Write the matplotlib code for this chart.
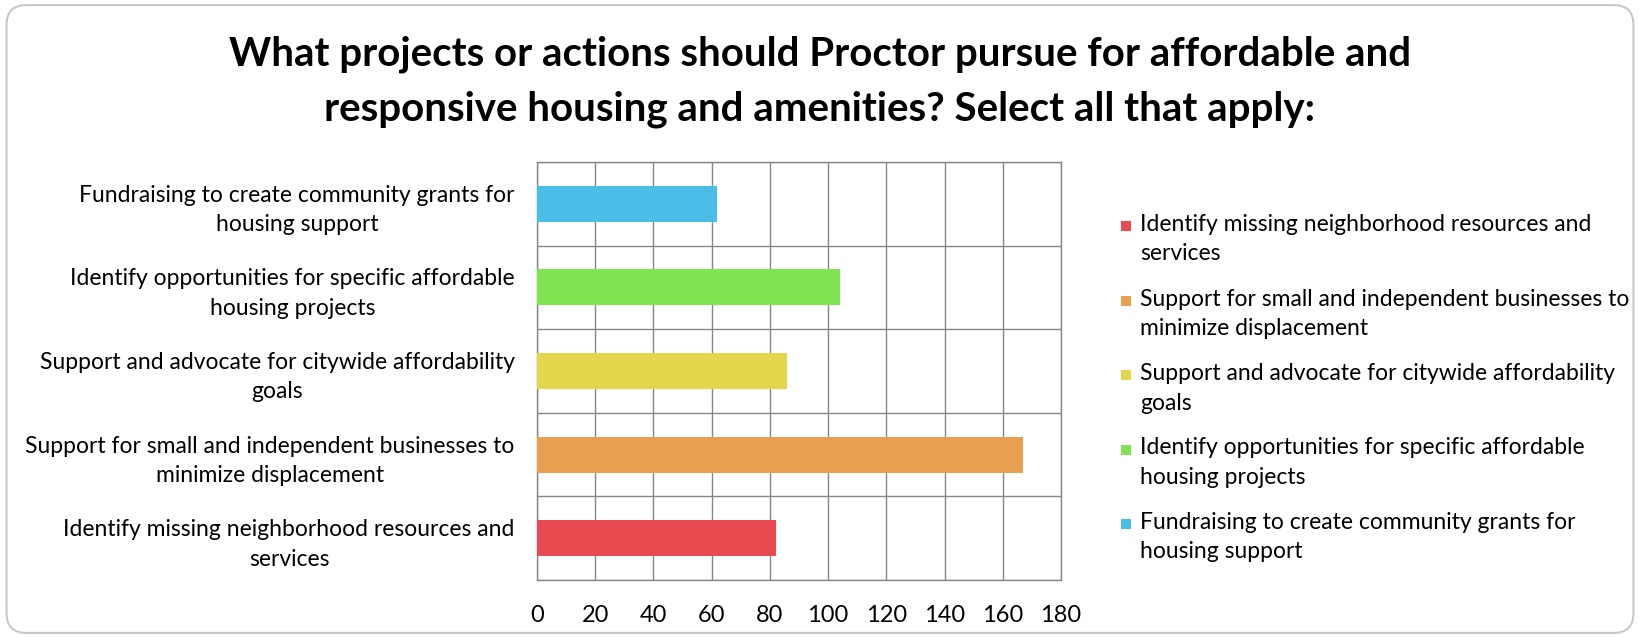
import matplotlib
matplotlib.use("Agg")
import matplotlib.pyplot as plt
from matplotlib.patches import FancyBboxPatch, Rectangle

# survey answers, bottom to top as drawn on the category axis
categories = [
    "Identify missing neighborhood resources and\nservices",
    "Support for small and independent businesses to\nminimize displacement",
    "Support and advocate for citywide affordability\ngoals",
    "Identify opportunities for specific affordable\nhousing projects",
    "Fundraising to create community grants for\nhousing support",
]
legend_labels = [
    "Identify missing neighborhood resources and\nservices",
    "Support for small and independent businesses to\nminimize displacement",
    "Support and advocate for citywide affordability\ngoals",
    "Identify opportunities for specific affordable\nhousing projects",
    "Fundraising to create community grants for\nhousing support",
]
counts = [82, 167, 86, 104, 62]
colors = ["#E84A50", "#E8A050", "#E4D64C", "#80E452", "#4ABEE6"]
xticks = [0, 20, 40, 60, 80, 100, 120, 140, 160, 180]

title = ("What projects or actions should Proctor pursue for affordable and\n"
         "responsive housing and amenities? Select all that apply:")

body_font = "Lato"

fig = plt.figure(figsize=(16.4, 6.38), dpi=100)

# rounded chart frame, kept behind the axes
frame = FancyBboxPatch((0.004, 0.008), 0.992, 0.984, boxstyle="round,pad=0,rounding_size=0.012",
                       transform=fig.transFigure, facecolor="white", edgecolor="#c8c8c8",
                       linewidth=1.5, mutation_aspect=1640 / 638, zorder=-5)
fig.patches.append(frame)

fig.text(0.5, 0.872, title, ha="center", va="center", fontsize=29, fontweight="bold",
         family=body_font, linespacing=1.6)

ax = fig.add_axes([537 / 1640, 1 - 580 / 638, 524 / 1640, 418 / 638])
ax.set_zorder(2)
y = range(len(categories))
ax.barh(y, counts, height=0.43, color=colors, zorder=3)

ax.set_xlim(0, 180)
ax.set_ylim(-0.5, len(categories) - 0.5)
ax.set_xticks(xticks)
ax.set_xticklabels([str(t) for t in xticks], family=body_font, fontsize=17)
ax.set_yticks(list(y))
ax.set_yticklabels(categories, family=body_font, fontsize=16.5, ha="right",
                   multialignment="center", linespacing=1.5)
ax.set_yticks([i - 0.5 for i in range(len(categories) + 1)], minor=True)
ax.tick_params(axis="both", which="both", length=0)
ax.tick_params(axis="x", pad=18)
ax.tick_params(axis="y", pad=16)
ax.grid(axis="x", which="major", color="#868686", linewidth=1.0, zorder=0)
ax.grid(axis="y", which="minor", color="#868686", linewidth=1.0, zorder=0)
for s in ax.spines.values():
    s.set_color("#868686")
    s.set_linewidth(1.0)

# legend, one square per answer, top entry first
lx, ly0, step = 1140 / 1640, 226 / 638, 74.5 / 638
for i, (lab, col) in enumerate(zip(legend_labels, colors)):
    yy = 1 - (ly0 + i * step)
    fig.patches.append(Rectangle((1121 / 1640, yy - 5 / 638), 10 / 1640, 10 / 638,
                                 transform=fig.transFigure, facecolor=col, edgecolor="none"))
    fig.text(lx, yy + 12 / 638, lab, ha="left", va="top", family=body_font,
             fontsize=16.5, linespacing=1.5)

fig.savefig("out.png", dpi=100)
